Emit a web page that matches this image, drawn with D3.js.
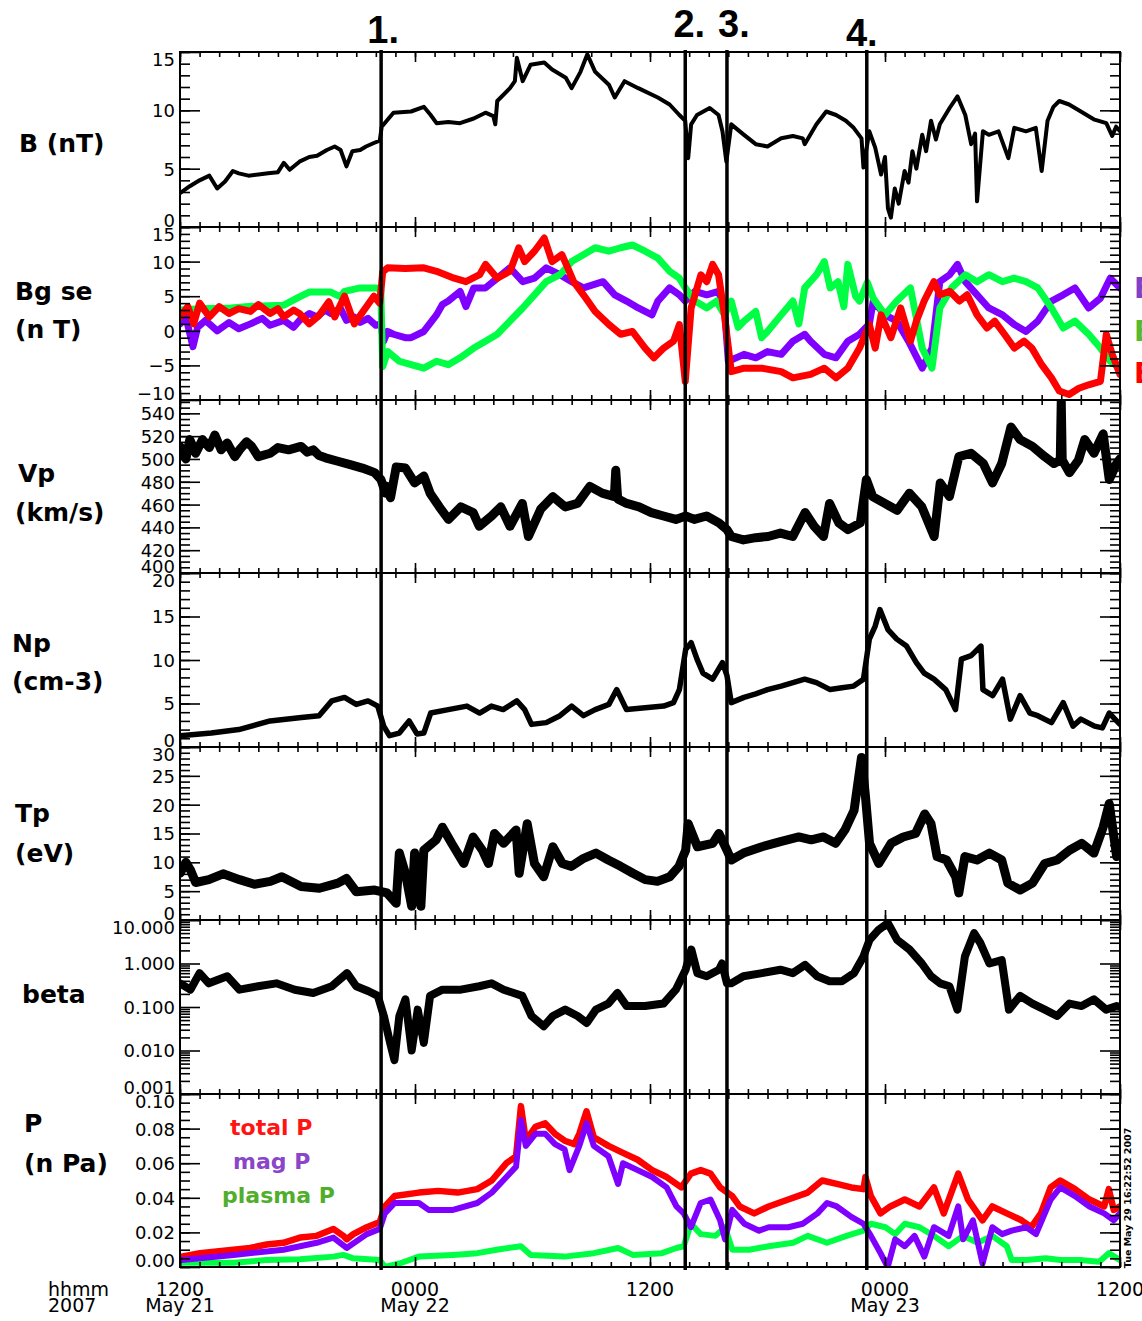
<!DOCTYPE html>
<html>
<head>
<meta charset="utf-8">
<script src="https://cdn.jsdelivr.net/npm/d3@7"></script>
<style>
  body { margin: 0; background: #fff; overflow: hidden; }
  svg { display: block; }
</style>
</head>
<body>
<svg id="chart" width="1142" height="1321"></svg>
<script>
// Solar wind plasma and field, 2007 May 21 12:00 UT to May 23 12:00 UT.
// Every sample is [hours since 2007-05-21 12:00 UT, value].

const fieldMagnitude = [[0,2.9],[0.5,3.5],[1.0,4.0],[1.5,4.4],[1.9,3.3],[2.3,3.9],[2.7,4.8],[3.0,4.6],[3.5,4.4],[4.0,4.5],[4.5,4.6],[5.0,4.7],[5.3,5.5],[5.6,4.9],[6.1,5.6],[6.6,6.0],[7.0,6.1],[7.5,6.6],[7.9,6.9],[8.2,6.6],[8.5,5.2],[8.8,6.5],[9.2,6.6],[9.5,6.9],[9.9,7.2],[10.2,7.4],[10.3,8.6],[10.6,9.2],[10.9,9.8],[11.8,9.9],[12.45,10.3],[12.8,9.6],[13.1,8.9],[13.7,9.0],[14.3,8.9],[15.0,9.3],[15.6,9.8],[16.0,9.5],[16.1,8.8],[16.2,10.8],[16.85,11.9],[17.1,12.5],[17.2,14.5],[17.5,12.5],[17.9,13.9],[18.6,14.1],[19.0,13.5],[19.7,12.8],[20.0,11.9],[20.45,13.3],[20.8,14.8],[21.2,13.3],[21.9,12.2],[22.2,11.1],[22.7,12.5],[23.4,11.9],[24.4,11.1],[25.0,10.5],[25.5,9.6],[25.8,9.1],[25.95,5.9],[26.1,8.8],[26.4,9.6],[27.05,10.2],[27.5,9.6],[27.7,8.2],[27.9,5.6],[28.15,8.8],[28.8,7.9],[29.4,7.1],[30.0,6.9],[30.7,7.6],[31.3,7.8],[31.8,7.6],[31.9,7.1],[32.5,8.8],[33.0,9.9],[33.5,9.6],[34.0,9.1],[34.4,8.5],[34.8,7.6],[34.9,5.1],[35.2,8.2],[35.5,6.8],[35.8,4.5],[36.0,6.0],[36.15,1.6],[36.3,0.8],[36.5,3.3],[36.7,2.0],[37.0,4.8],[37.2,3.8],[37.4,6.5],[37.6,5.0],[37.9,7.9],[38.1,6.5],[38.35,9.1],[38.6,7.5],[38.8,8.8],[39.3,10.2],[39.7,11.2],[40.1,9.6],[40.4,7.1],[40.6,8.0],[40.7,2.2],[41.0,8.2],[41.3,7.9],[41.8,8.2],[42.3,5.9],[42.6,8.5],[43.2,8.2],[43.7,8.5],[44.0,4.8],[44.3,9.1],[44.6,10.3],[44.9,10.8],[45.4,10.5],[46.0,9.9],[46.7,9.2],[47.3,8.9],[47.6,7.8],[47.8,8.6],[48,8.2]];

const fieldBx = [[0,1.0],[0.3,2.0],[0.66,-2.3],[0.9,0.5],[1.3,1.5],[1.9,0.0],[2.5,1.2],[3.0,0.3],[3.6,1.0],[4.2,1.8],[4.6,0.8],[5.3,1.5],[5.8,0.5],[6.1,1.5],[6.6,2.5],[7.0,2.0],[7.4,3.0],[7.7,2.5],[8.2,3.2],[8.5,1.5],[8.9,2.0],[9.2,1.2],[9.6,1.8],[10.0,0.8],[10.25,1.0],[10.4,-1.5],[10.6,-0.1],[10.9,-0.5],[11.5,-1.0],[11.8,-1.0],[12.45,-0.1],[13.1,2.3],[13.4,3.8],[13.7,4.3],[14.3,5.7],[14.6,3.5],[15.0,6.2],[15.6,6.2],[16.2,7.6],[16.85,9.1],[17.5,7.1],[18.1,7.6],[18.7,9.1],[19.4,8.1],[20.0,7.1],[20.6,6.2],[21.6,7.1],[22.2,5.2],[22.8,4.3],[23.4,3.3],[24.1,2.3],[24.4,4.3],[25.0,6.2],[25.5,5.2],[25.8,4.3],[26.3,5.7],[26.9,5.2],[27.5,5.7],[27.8,3.3],[28.0,-4.4],[28.8,-3.4],[29.4,-3.9],[30.0,-3.0],[30.7,-3.4],[31.3,-1.5],[31.9,-0.5],[32.2,-1.5],[32.9,-3.4],[33.5,-3.9],[34.1,-1.5],[34.7,-0.5],[35.2,1.0],[35.4,4.3],[36.0,2.3],[36.6,1.4],[37.2,-1.5],[37.9,-5.4],[38.4,-2.5],[38.8,7.1],[39.3,8.1],[39.7,9.6],[40.1,7.1],[40.7,5.2],[41.3,3.3],[42.0,2.3],[42.6,0.9],[43.2,-0.1],[43.8,1.4],[44.5,4.3],[45.1,5.2],[45.7,6.2],[46.4,3.3],[47.0,4.7],[47.5,7.6],[48,6.2]];

const fieldBy = [[0,3.0],[1.0,3.2],[2.6,3.3],[3.5,3.5],[5.3,3.7],[6.1,4.9],[6.6,5.6],[7.7,5.6],[8.2,4.9],[8.4,5.7],[9.2,6.2],[10.0,6.2],[10.25,6.0],[10.35,-5.2],[10.6,-3.0],[11.2,-4.4],[11.8,-4.9],[12.45,-5.4],[13.1,-4.4],[13.7,-4.9],[14.3,-3.9],[15.0,-2.5],[15.6,-1.5],[16.2,-0.5],[16.85,1.4],[17.5,3.3],[18.1,5.2],[18.7,7.1],[19.4,8.1],[20.0,10.0],[20.6,11.0],[21.2,12.0],[21.9,11.5],[22.5,12.0],[23.1,12.4],[23.75,11.5],[24.4,10.5],[25.0,8.6],[25.5,7.6],[25.8,6.2],[26.3,4.3],[26.9,3.3],[27.4,4.3],[27.8,2.3],[28.15,4.3],[28.5,0.5],[28.8,1.4],[29.4,2.8],[29.7,-1.0],[30.0,-0.1],[30.7,2.3],[31.3,4.3],[31.6,1.0],[31.9,6.2],[32.5,8.1],[32.9,10.0],[33.2,6.2],[33.6,7.1],[33.9,3.5],[34.1,9.6],[34.5,5.0],[34.7,4.3],[35.1,7.0],[35.4,4.7],[36.0,2.3],[36.6,4.3],[37.3,6.2],[37.9,-2.5],[38.4,-5.4],[38.8,3.3],[39.4,6.2],[40.1,8.1],[40.7,7.1],[41.3,8.1],[42.0,7.1],[42.6,7.6],[43.2,7.1],[43.8,6.2],[44.5,3.3],[45.1,0.4],[45.7,1.4],[46.4,-0.5],[47.0,-2.5],[47.5,-4.4],[48,-5.4]];

const fieldBz = [[0,2.0],[0.4,3.5],[0.7,1.0],[1.0,4.0],[1.5,2.0],[2.0,3.5],[2.5,2.5],[3.0,3.2],[3.6,2.8],[4.0,3.8],[4.6,2.5],[5.0,3.2],[5.3,2.0],[5.8,3.0],[6.1,2.5],[6.6,1.0],[7.1,2.2],[7.6,4.2],[7.9,2.0],[8.4,5.0],[8.9,1.0],[9.4,3.0],[9.9,5.0],[10.2,4.0],[10.35,8.5],[10.6,9.1],[11.5,9.0],[12.45,9.1],[13.1,8.6],[14.0,7.6],[14.6,7.1],[15.3,8.1],[15.6,9.6],[16.2,7.6],[16.85,8.6],[17.3,12.0],[17.6,10.0],[18.1,11.5],[18.6,13.4],[19.0,10.0],[19.5,11.0],[19.8,9.1],[20.1,7.1],[20.6,5.2],[21.2,2.8],[21.9,0.9],[22.5,-0.5],[23.1,-0.1],[23.75,-2.5],[24.2,-3.9],[24.7,-2.5],[25.2,-1.5],[25.5,0.9],[25.8,-7.3],[26.1,3.3],[26.6,8.1],[26.9,7.1],[27.2,9.6],[27.5,8.1],[27.8,2.3],[28.15,-5.9],[28.8,-5.4],[29.7,-5.4],[30.7,-5.9],[31.3,-6.8],[32.2,-6.3],[32.9,-5.4],[33.5,-6.8],[34.1,-5.4],[34.7,-2.5],[35.2,0.9],[35.5,-2.5],[35.8,2.3],[36.3,-1.0],[36.8,3.3],[37.3,-1.5],[37.6,1.4],[38.0,4.3],[38.5,7.1],[38.8,5.2],[39.3,5.7],[39.8,4.3],[40.2,5.2],[40.7,2.3],[41.2,0.4],[41.6,1.4],[42.1,-0.5],[42.6,-2.5],[43.1,-1.5],[43.5,-2.5],[44.0,-4.9],[44.5,-6.8],[44.9,-8.7],[45.4,-9.2],[45.9,-8.3],[46.4,-7.8],[47.0,-7.3],[47.3,-0.5],[47.6,-3.4],[48,-6.3]];

const protonSpeed = [[0,511],[0.3,500],[0.5,517],[0.8,505],[1.15,517],[1.5,510],[1.78,521],[2.1,508],[2.41,514],[2.8,502],[3.04,508],[3.4,515],[3.66,511],[4.0,502],[4.61,505],[5.0,510],[5.55,508],[6.18,511],[6.5,506],[6.8,508],[7.1,503],[7.43,501],[8.06,498],[8.69,495],[9.31,492],[9.94,488],[10.26,482],[10.5,470],[10.57,476],[10.75,466],[11.04,493],[11.51,492],[11.98,479],[12.45,485],[12.77,470],[13.24,458],[13.71,447],[14.34,458],[14.97,453],[15.28,441],[15.91,450],[16.38,458],[16.85,441],[17.48,461],[17.79,432],[18.42,456],[19.04,467],[19.67,458],[20.3,461],[20.93,476],[21.56,470],[22.18,467],[22.25,490],[22.35,465],[22.81,461],[23.44,458],[24.07,453],[24.69,450],[25.32,447],[25.82,450],[26.26,447],[26.89,450],[27.52,444],[27.93,438],[28.15,432],[28.77,429],[29.4,431],[30.03,432],[30.66,435],[31.29,432],[31.92,453],[32.38,441],[32.86,432],[33.17,461],[33.64,444],[34.11,438],[34.74,444],[35.05,482],[35.37,467],[35.99,461],[36.62,455],[37.25,470],[37.88,458],[38.51,432],[38.82,479],[39.29,467],[39.77,502],[40.39,505],[41.02,496],[41.49,479],[41.96,496],[42.43,528],[42.9,517],[43.53,511],[44.16,502],[44.63,496],[44.95,499],[45.0,551],[45.05,499],[45.42,488],[45.88,499],[46.2,517],[46.67,505],[47.14,522],[47.45,482],[47.83,496],[48,500]];

const protonDensity = [[0,1.3],[1.6,1.6],[3.0,2.0],[4.6,3.0],[6.2,3.4],[7.1,3.6],[7.75,5.3],[8.4,5.7],[9.0,4.9],[9.6,5.3],[10.1,4.7],[10.4,2.4],[10.7,1.3],[11.2,1.6],[11.7,3.0],[12.1,1.5],[12.45,1.6],[12.8,3.9],[13.7,4.3],[14.65,4.7],[15.3,3.9],[15.9,4.7],[16.5,4.3],[17.2,5.3],[17.6,4.3],[17.95,2.6],[18.7,2.8],[19.4,3.6],[20.0,4.7],[20.6,3.6],[21.2,4.3],[21.9,4.9],[22.3,6.6],[22.8,4.3],[23.75,4.5],[24.7,4.7],[25.2,5.1],[25.5,6.6],[25.82,11.2],[26.1,12.0],[26.4,10.1],[26.7,8.5],[27.2,7.8],[27.7,9.7],[27.93,8.2],[28.15,5.1],[28.8,5.7],[29.4,6.1],[30.0,6.6],[30.7,7.0],[31.3,7.4],[31.9,7.8],[32.5,7.4],[33.2,6.6],[33.8,6.8],[34.4,7.0],[34.9,7.8],[35.2,12.4],[35.5,13.9],[35.74,15.8],[36.15,13.5],[36.6,12.4],[37.1,11.6],[37.6,9.7],[38.0,8.5],[38.5,7.8],[39.1,6.6],[39.6,4.3],[39.9,10.1],[40.4,10.5],[40.9,11.6],[41.0,6.6],[41.5,5.9],[42.0,7.8],[42.4,3.2],[42.9,5.9],[43.4,3.9],[43.8,3.6],[44.5,2.8],[45.1,5.1],[45.6,2.4],[46.0,3.2],[46.7,2.4],[47.1,2.2],[47.45,3.9],[48,2.6]];

const protonTemp = [[0,8.1],[0.3,10.0],[0.53,8.7],[0.8,6.5],[1.47,7.0],[2.2,8.0],[3.04,7.0],[3.8,6.2],[4.61,6.7],[5.2,7.5],[6.18,5.8],[7.12,5.5],[8.06,6.4],[8.5,7.2],[9.0,4.9],[9.94,5.2],[10.57,4.7],[11.04,2.9],[11.2,11.6],[11.51,8.1],[11.83,2.4],[11.98,11.6],[12.3,2.4],[12.45,12.1],[13.08,13.9],[13.4,16.1],[13.87,13.3],[14.49,9.8],[14.97,14.4],[15.44,12.1],[15.75,9.8],[16.06,15.0],[16.53,13.3],[17.16,15.6],[17.32,8.1],[17.73,16.7],[18.1,9.8],[18.57,7.5],[19.04,12.7],[19.52,9.8],[19.99,9.3],[20.61,10.7],[21.24,11.6],[21.87,10.4],[22.5,9.3],[23.13,8.1],[23.75,7.0],[24.38,6.7],[25.01,7.5],[25.48,9.3],[25.82,12.1],[25.95,16.7],[26.42,12.7],[27.2,13.3],[27.52,15.0],[27.93,12.1],[28.15,10.4],[28.77,11.6],[29.72,12.7],[30.66,13.6],[31.6,14.4],[32.23,13.9],[32.86,14.4],[33.48,13.3],[33.95,15.6],[34.42,19.0],[34.8,28.2],[34.99,21.9],[35.21,13.3],[35.68,9.8],[36.31,13.3],[36.93,14.4],[37.56,15.0],[38.03,18.4],[38.35,16.7],[38.66,11.0],[39.14,10.4],[39.61,7.5],[39.77,4.7],[40.08,11.0],[40.7,10.4],[41.33,11.6],[41.96,10.4],[42.27,6.4],[42.9,5.2],[43.53,6.4],[44.16,9.8],[44.79,10.4],[45.42,12.1],[46.04,13.3],[46.67,11.6],[47.14,16.1],[47.45,20.2],[47.83,11.0],[48,12.0]];

const plasmaBeta = [[0,0.35],[0.53,0.25],[1.0,0.6],[1.47,0.35],[2.41,0.51],[3.04,0.25],[3.98,0.30],[4.92,0.35],[5.86,0.25],[6.8,0.21],[7.75,0.30],[8.53,0.60],[9.0,0.30],[9.63,0.23],[10.1,0.18],[10.41,0.062],[10.73,0.015],[10.95,0.006],[11.2,0.062],[11.51,0.15],[11.83,0.010],[12.14,0.087],[12.45,0.015],[12.77,0.18],[13.4,0.25],[14.34,0.25],[15.28,0.30],[15.91,0.35],[16.53,0.25],[17.48,0.18],[17.95,0.062],[18.57,0.036],[19.04,0.062],[19.67,0.087],[20.3,0.062],[20.77,0.043],[21.24,0.087],[21.87,0.12],[22.34,0.21],[22.81,0.105],[23.75,0.105],[24.69,0.12],[25.32,0.25],[25.82,0.72],[26.11,2.1],[26.42,0.60],[26.89,0.51],[27.52,0.72],[27.68,1.0],[27.93,0.35],[28.15,0.35],[28.77,0.51],[29.72,0.60],[30.66,0.72],[31.29,0.60],[31.92,0.93],[32.54,0.51],[33.17,0.39],[33.8,0.39],[34.42,0.60],[34.9,1.45],[35.21,3.5],[35.68,6.0],[36.15,8.5],[36.62,3.5],[37.25,2.1],[37.88,1.0],[38.35,0.51],[38.82,0.35],[39.29,0.30],[39.7,0.087],[40.08,1.45],[40.55,5.0],[40.86,3.0],[41.33,1.0],[41.96,1.2],[42.33,0.087],[42.9,0.18],[43.53,0.12],[44.16,0.087],[44.79,0.062],[45.42,0.12],[46.04,0.105],[46.67,0.15],[47.29,0.087],[47.83,0.105],[48,0.1]];

const totalPressure = [[0.08,0.006],[1.02,0.008],[1.87,0.009],[2.73,0.010],[3.58,0.011],[4.43,0.013],[5.28,0.014],[6.13,0.017],[6.98,0.018],[7.83,0.022],[8.34,0.018],[8.51,0.016],[8.85,0.019],[9.54,0.023],[10.2,0.026],[10.46,0.035],[10.96,0.041],[12.2,0.043],[13.19,0.044],[14.18,0.043],[15.18,0.045],[15.92,0.050],[16.67,0.060],[17.16,0.064],[17.41,0.093],[17.66,0.073],[18.15,0.081],[18.65,0.083],[19.15,0.077],[19.64,0.073],[20.14,0.071],[20.39,0.077],[20.76,0.090],[21.13,0.075],[21.88,0.070],[22.62,0.066],[23.37,0.062],[24.11,0.056],[24.85,0.052],[25.6,0.046],[26.09,0.054],[26.59,0.056],[27.09,0.054],[27.58,0.046],[28.2,0.041],[28.58,0.035],[29.32,0.031],[30.06,0.035],[31.06,0.039],[32.05,0.043],[32.79,0.050],[33.54,0.048],[34.28,0.046],[34.9,0.045],[35.0,0.052],[35.28,0.041],[35.77,0.031],[36.27,0.035],[37.01,0.039],[37.76,0.035],[38.5,0.046],[39.0,0.031],[39.74,0.054],[40.24,0.039],[40.98,0.027],[41.48,0.035],[42.22,0.031],[42.97,0.027],[43.47,0.023],[43.96,0.031],[44.46,0.046],[44.95,0.050],[45.7,0.045],[46.44,0.039],[47.19,0.035],[47.43,0.045],[47.68,0.033],[48,0.035]];

const magneticPressure = [[0.08,0.004],[2.73,0.007],[5.28,0.010],[6.98,0.014],[7.83,0.017],[8.51,0.011],[9.54,0.019],[10.2,0.022],[10.46,0.031],[10.96,0.037],[12.2,0.037],[12.7,0.033],[13.94,0.033],[15.18,0.037],[15.92,0.043],[16.67,0.052],[17.16,0.058],[17.41,0.085],[17.66,0.070],[18.15,0.077],[18.65,0.077],[19.15,0.071],[19.64,0.068],[19.89,0.056],[20.39,0.070],[20.76,0.083],[21.13,0.070],[21.88,0.064],[22.37,0.048],[22.62,0.060],[23.37,0.056],[24.11,0.052],[24.85,0.046],[25.35,0.035],[25.72,0.031],[26.09,0.023],[26.59,0.037],[27.09,0.039],[27.58,0.027],[27.83,0.016],[28.2,0.033],[28.82,0.025],[29.57,0.021],[30.06,0.023],[31.06,0.023],[31.8,0.025],[32.55,0.031],[33.04,0.037],[33.54,0.035],[34.28,0.029],[34.9,0.025],[35.28,0.018],[35.77,0.008],[36.14,0.000],[36.52,0.016],[37.01,0.012],[37.51,0.018],[38.01,0.006],[38.5,0.023],[39.25,0.018],[39.74,0.035],[39.99,0.016],[40.49,0.027],[40.98,0.002],[41.48,0.023],[41.98,0.019],[42.47,0.021],[43.22,0.023],[43.71,0.019],[44.46,0.039],[44.95,0.046],[45.7,0.041],[46.44,0.035],[47.19,0.031],[47.68,0.027],[48,0.031]];

const plasmaPressure = [[0.08,0.0025],[2.73,0.0025],[4.43,0.004],[6.13,0.0045],[7.83,0.006],[8.34,0.007],[8.85,0.005],[10.2,0.004],[10.46,0.000],[11.21,0.002],[12.2,0.006],[13.94,0.007],[15.18,0.008],[16.17,0.010],[17.41,0.012],[17.91,0.007],[19.64,0.006],[21.13,0.008],[22.37,0.011],[23.12,0.007],[24.61,0.008],[25.35,0.011],[25.72,0.012],[26.09,0.025],[26.59,0.019],[27.34,0.018],[27.83,0.023],[28.2,0.010],[29.07,0.010],[30.06,0.012],[31.31,0.014],[32.05,0.018],[33.04,0.014],[34.04,0.018],[34.9,0.021],[35.28,0.025],[36.02,0.023],[36.52,0.019],[37.01,0.025],[37.76,0.023],[38.5,0.018],[39.25,0.012],[39.99,0.018],[40.73,0.014],[41.48,0.018],[42.22,0.012],[42.47,0.004],[43.22,0.004],[44.21,0.005],[44.95,0.004],[45.95,0.004],[46.94,0.003],[47.43,0.008],[48,0.004]];

// Boundary markers (hours since start) and their labels
const eventHours = [10.27, 25.8, 27.93, 35.07];
const eventLabels = ["1.", "2.", "3.", "4."];

// Axis tick values and labels
const bTicks = [0, 5, 10, 15];
const bgseTicks = [-10, -5, 0, 5, 10, 15];
const vpTicks = [400, 420, 440, 460, 480, 500, 520, 540];
const npTicks = [0, 5, 10, 15, 20];
const tpTicks = [0, 5, 10, 15, 20, 25, 30];
const betaTicks = [0.001, 0.01, 0.1, 1, 10];
const betaTickLabels = ["0.001", "0.010", "0.100", "1.000", "10.000"];
const pTicks = [0, 0.02, 0.04, 0.06, 0.08, 0.10];
const timeTickHours = [0, 12, 24, 36, 48];

// ---------------------------------------------------------------------
const SANS = '"DejaVu Sans", sans-serif';
const HELV = '"Liberation Sans", Arial, sans-serif';
const svg = d3.select("#chart");
const t0 = Date.UTC(2007, 4, 21, 12);
const hourDate = h => new Date(t0 + h * 3600000);

const X0 = 180, X1 = 1120;
const x = d3.scaleUtc().domain([hourDate(0), hourDate(48)]).range([X0, X1]);

const PURPLE = "#7f00ff", GREEN = "#00ff44", RED = "#ff0000";

const panels = [
  { key: "b", top: 52, bottom: 227, domain: [0, 15], ticks: bTicks, minor: 1,
    title: ["B (nT)"], titleX: [19], titleY: [152],
    series: [{ data: fieldMagnitude, color: "#000", width: 4 }] },
  { key: "bgse", top: 227, bottom: 400, domain: [-10, 15], ticks: bgseTicks, minor: 1,
    format: v => (v < 0 ? "\u2212" + Math.abs(v) : String(v)),
    title: ["Bg se", "(n T)"], titleX: [15, 15], titleY: [300, 338],
    series: [{ data: fieldBx, color: PURPLE, width: 7 },
             { data: fieldBy, color: GREEN, width: 7 },
             { data: fieldBz, color: RED, width: 7 }] },
  { key: "vp", top: 400, bottom: 573, domain: [400, 551.7], ticks: vpTicks, minor: 5,
    title: ["Vp", "(km/s)"], titleX: [18, 15], titleY: [482, 521],
    series: [{ data: protonSpeed, color: "#000", width: 9 }] },
  { key: "np", top: 573, bottom: 747, domain: [0, 20], ticks: npTicks, minor: 1,
    title: ["Np", "(cm-3)"], titleX: [12, 12], titleY: [652, 690],
    series: [{ data: protonDensity, color: "#000", width: 5.5 }] },
  { key: "tp", top: 747, bottom: 920, domain: [0, 30], ticks: tpTicks, minor: 1,
    title: ["Tp", "(eV)"], titleX: [15, 15], titleY: [822, 862],
    series: [{ data: protonTemp, color: "#000", width: 9 }] },
  { key: "beta", top: 920, bottom: 1094, domain: [0.001, 10], ticks: betaTicks, log: true,
    format: (v, i) => betaTickLabels[i],
    title: ["beta"], titleX: [22], titleY: [1003],
    series: [{ data: plasmaBeta, color: "#000", width: 8 }] },
  { key: "p", top: 1094, bottom: 1267, domain: [0, 0.10], ticks: pTicks, minor: 0.005,
    format: d3.format(".2f"),
    title: ["P", "(n Pa)"], titleX: [24, 24], titleY: [1132, 1172],
    series: [{ data: plasmaPressure, color: GREEN, width: 6 },
             { data: totalPressure, color: RED, width: 6.5 },
             { data: magneticPressure, color: PURPLE, width: 6 }] }
];

const defs = svg.append("defs");
const hourTicks = d3.utcHour.every(1).range(hourDate(0), hourDate(48.01));
const halfDayTicks = timeTickHours.map(hourDate);

panels.forEach(p => {
  const y = (p.log ? d3.scaleLog() : d3.scaleLinear()).domain(p.domain).range([p.bottom, p.top]);
  const clipId = "clip-" + p.key;
  defs.append("clipPath").attr("id", clipId)
    .append("rect").attr("x", X0).attr("y", p.top).attr("width", X1 - X0).attr("height", p.bottom - p.top);

  const line = d3.line().x(d => x(hourDate(d[0]))).y(d => y(d[1]));
  const g = svg.append("g").attr("clip-path", `url(#${clipId})`);
  p.series.forEach(s => {
    g.append("path").attr("d", line(s.data))
      .attr("fill", "none").attr("stroke", s.color).attr("stroke-width", s.width)
      .attr("stroke-linejoin", "round").attr("stroke-linecap", "round");
  });

  // minor ticks
  let minorVals;
  if (p.log) {
    minorVals = [];
    for (let e = -3; e < 1; e++) for (let m = 2; m <= 9; m++) minorVals.push(m * Math.pow(10, e));
  } else {
    minorVals = d3.range(p.domain[0], p.domain[1] + 1e-9, p.minor);
  }
  const ax = svg.append("g");
  const strip = sel => sel.call(s => s.select(".domain").remove())
    .call(s => s.selectAll("line").attr("stroke", "#000").attr("stroke-width", 1.6));

  ax.append("g").attr("transform", `translate(${X0},0)`)
    .call(d3.axisLeft(y).tickValues(minorVals).tickSize(-10).tickFormat("")).call(strip);
  ax.append("g").attr("transform", `translate(${X1},0)`)
    .call(d3.axisRight(y).tickValues(minorVals).tickSize(-10).tickFormat("")).call(strip);
  ax.append("g").attr("transform", `translate(${X1},0)`)
    .call(d3.axisRight(y).tickValues(p.ticks).tickSize(-20).tickFormat("")).call(strip);

  const fmt = p.format || (v => String(v));
  const left = ax.append("g").attr("transform", `translate(${X0},0)`)
    .call(d3.axisLeft(y).tickValues(p.ticks).tickSize(-20).tickPadding(5).tickFormat(fmt)).call(strip);
  left.attr("font-family", null).attr("font-size", null);
  left.selectAll(".tick").each(function (v) {
    const y0 = y(v);
    const yc = Math.min(Math.max(y0, p.top + 7), p.bottom - 7);
    d3.select(this).select("text")
      .attr("y", yc - y0).attr("dy", "0.36em").attr("fill", "#000")
      .style("font-family", SANS).style("font-size", "18px");
  });

  // time ticks along the top and bottom edges of each panel
  ax.append("g").attr("transform", `translate(0,${p.bottom})`)
    .call(d3.axisBottom(x).tickValues(hourTicks).tickSize(-5).tickFormat("")).call(strip);
  ax.append("g").attr("transform", `translate(0,${p.bottom})`)
    .call(d3.axisBottom(x).tickValues(halfDayTicks).tickSize(-10).tickFormat("")).call(strip);
  ax.append("g").attr("transform", `translate(0,${p.top})`)
    .call(d3.axisTop(x).tickValues(hourTicks).tickSize(-5).tickFormat("")).call(strip);
  ax.append("g").attr("transform", `translate(0,${p.top})`)
    .call(d3.axisTop(x).tickValues(halfDayTicks).tickSize(-10).tickFormat("")).call(strip);

  // frame
  svg.append("rect").attr("x", X0).attr("y", p.top).attr("width", X1 - X0).attr("height", p.bottom - p.top)
    .attr("fill", "none").attr("stroke", "#000").attr("stroke-width", 2);

  // panel title
  p.title.forEach((t, i) => {
    svg.append("text").attr("x", p.titleX[i]).attr("y", p.titleY[i])
      .style("font-family", SANS).style("font-size", "25px").style("font-weight", "bold")
      .attr("fill", "#000").text(t);
  });
});

// Bgse component legend at the right edge
const bgseLegend = [["Bx", "#8040c8", 298], ["By", "#55bb33", 341], ["Bz", RED, 383]];
bgseLegend.forEach(([t, c, yy]) => {
  svg.append("text").attr("x", 1134).attr("y", yy)
    .style("font-family", SANS).style("font-size", "28px").style("font-weight", "bold")
    .attr("fill", c).text(t);
});

// pressure legend
const pLegend = [["total P", "#ff1414", 230, 1135], ["mag P", "#8a45c8", 233, 1169], ["plasma P", "#4fae2c", 222, 1203]];
pLegend.forEach(([t, c, xx, yy]) => {
  svg.append("text").attr("x", xx).attr("y", yy)
    .style("font-family", SANS).style("font-size", "22px").style("font-weight", "bold")
    .attr("fill", c).text(t);
});

// plot stamp along the right edge of the pressure panel
svg.append("text").attr("transform", "translate(1131,1198) rotate(-90)")
  .attr("text-anchor", "middle").style("font-family", SANS).style("font-size", "9.5px")
  .style("font-weight", "bold").attr("fill", "#000").text("Tue May 29 16:22:52 2007");

// event markers
const eventLabelDx = [2, 4, 7, -5];
const eventLabelY = [43, 37, 37, 46];
eventHours.forEach((h, i) => {
  const ex = x(hourDate(h));
  svg.append("line").attr("x1", ex).attr("x2", ex).attr("y1", 50).attr("y2", 1270)
    .attr("stroke", "#000").attr("stroke-width", 3.5);
  svg.append("text").attr("x", ex + eventLabelDx[i]).attr("y", eventLabelY[i])
    .attr("text-anchor", "middle")
    .style("font-family", HELV).style("font-size", "38px").style("font-weight", "bold")
    .attr("fill", "#000").text(eventLabels[i]);
});

// time axis labels below the last panel
const fmtTime = d3.utcFormat("%H%M");
const fmtDay = d3.utcFormat("%b %d");
const labelStyle = sel => sel.style("font-family", SANS).style("font-size", "19px").attr("fill", "#000");
timeTickHours.forEach((h, i) => {
  const d = hourDate(h);
  const tx = x(d);
  svg.append("text").attr("x", tx).attr("y", 1296).attr("text-anchor", "middle")
    .call(labelStyle).text(fmtTime(d));
  if (i === 0 || d.getUTCHours() === 0) {
    svg.append("text").attr("x", tx).attr("y", 1312).attr("text-anchor", "middle")
      .call(labelStyle).text(fmtDay(d));
  }
});
svg.append("text").attr("x", 48).attr("y", 1296).call(labelStyle).text("hhmm");
svg.append("text").attr("x", 48).attr("y", 1312).call(labelStyle).text("2007");
</script>
</body>
</html>
